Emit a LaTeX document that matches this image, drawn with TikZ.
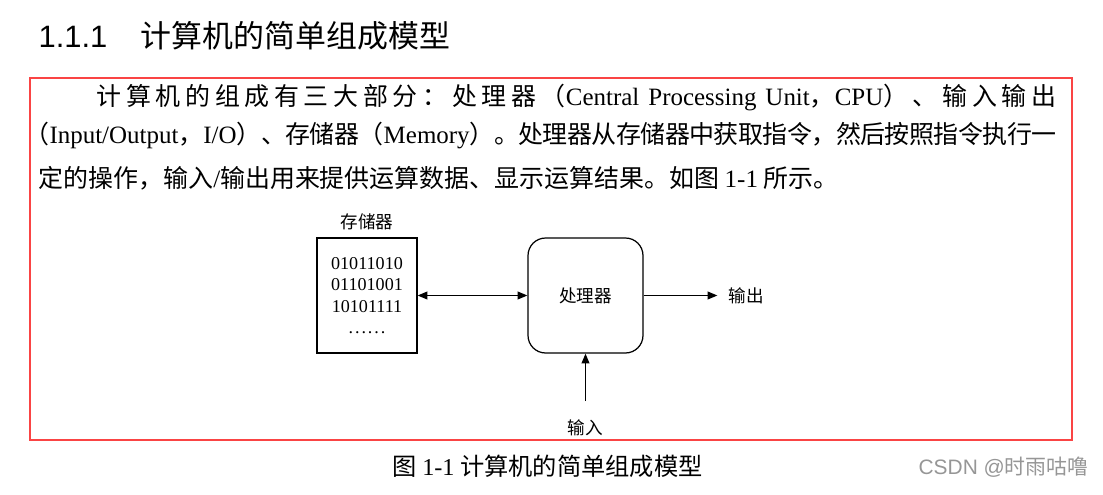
\documentclass[tikz,border=0pt]{standalone}
\usepackage{fontspec}
\setmainfont{Liberation Serif}
\newfontfamily\cjk{Noto Sans CJK SC}
\newfontfamily\hei{Liberation Sans}
\usetikzlibrary{arrows.meta,positioning}

\definecolor{framered}{RGB}{250,68,68}
\definecolor{markgray}{RGB}{150,150,150}

% stretchable glue between Chinese characters, for the justified lines
\newcount\cjkcode
\cjkcode="4E00
\loop
  \XeTeXcharclass\cjkcode=1
  \advance\cjkcode by 1
\ifnum\cjkcode<"A000 \repeat
\XeTeXcharclass"3001=1 \XeTeXcharclass"3002=1
\XeTeXcharclass"FF08=1 \XeTeXcharclass"FF09=1
\XeTeXcharclass"FF0C=1 \XeTeXcharclass"FF1A=1
\newcommand\cjkglue{\hskip 0pt plus 3pt minus 1pt\relax}
\newcommand\cjkjustify{\XeTeXinterchartokenstate=1\relax}
\XeTeXinterchartoks 1 1 = {\cjkglue}
\XeTeXinterchartoks 0 1 = {\cjkglue}
\XeTeXinterchartoks 1 0 = {\cjkglue}

\begin{document}
\begin{tikzpicture}[x=0.02cm,y=-0.02cm,>={Triangle[length=5.5pt,width=4.4pt]},
    line width=0.7pt,
    every node/.style={inner sep=0pt},
    bodyline/.style={anchor=base west,
                     font=\fontsize{14.2}{17}\selectfont\cjk\cjkjustify},
    boxlabel/.style={font=\fontsize{10}{12}\selectfont\cjk},
    membox/.style={draw,minimum width=2cm,minimum height=2.3cm,align=center,
                   font=\fontsize{10.3}{12.2}\selectfont},
    procbox/.style={draw,rounded corners=10pt,minimum width=2.3cm,minimum height=2.3cm,
                    font=\fontsize{10}{12}\selectfont\cjk}]
    \useasboundingbox (0,0) rectangle (1103,494);

    % heading
    \node[anchor=base west,font=\fontsize{17.6}{20}\selectfont] (head) at (38,47)
        {{\hei 1.1.1}\hspace{19pt}{\cjk 计算机的简单组成模型}};

%	\draw[framered] (30,78) rectangle (1072,440);
    \draw[framered,line width=0.8pt] (30,78) rectangle (1072,440);

    % paragraph
    \node[bodyline] (line1) at (96,105)
        {\hbox to 19.2cm{计算机的组成有三大部分：处理器（{\rmfamily Central Processing Unit}，{\rmfamily CPU}）、输入输出}};
    \node[bodyline] (line2) at (24,143)
        {\hbox to 20.64cm{（{\rmfamily Input/Output}，{\rmfamily I/O}）、存储器（{\rmfamily Memory}）。处理器从存储器中获取指令，然后按照指令执行一}};
    \node[bodyline] (line3) at (38,187)
        {定的操作，输入{\rmfamily /}输出用来提供运算数据、显示运算结果。如图 {\rmfamily 1-1} 所示。};

    % model
    \node[membox] (mem) at (367,295.5)
        {01011010\\01101001\\10101111\\.\kern1.1pt.\kern1.1pt.\kern1.1pt.\kern1.1pt.\kern1.1pt.};
    \node[boxlabel,above=4pt of mem] (memlabel) {存储器};
    \node[procbox] (proc) at (585.5,295.5) {处理器};
    \node[boxlabel,right=48pt of proc] (out) {输出};
    \node[boxlabel,below=37pt of proc] (in) {输入};

    \draw[<->] (mem) -- (proc);
    \draw[->,shorten >=6pt] (proc) -- (out);
    \draw[->,shorten <=10pt] (in) -- (proc);

    % caption
    \node[anchor=base west,font=\fontsize{13.8}{16}\selectfont\cjk] (caption) at (392,475)
        {图 {\rmfamily 1-1} 计算机的简单组成模型};
    \node[anchor=base west,font=\fontsize{11.9}{14}\selectfont\hei,text=markgray] (mark) at (918,474)
        {CSDN @{\cjk 时雨咕噜}};
\end{tikzpicture}
\end{document}
